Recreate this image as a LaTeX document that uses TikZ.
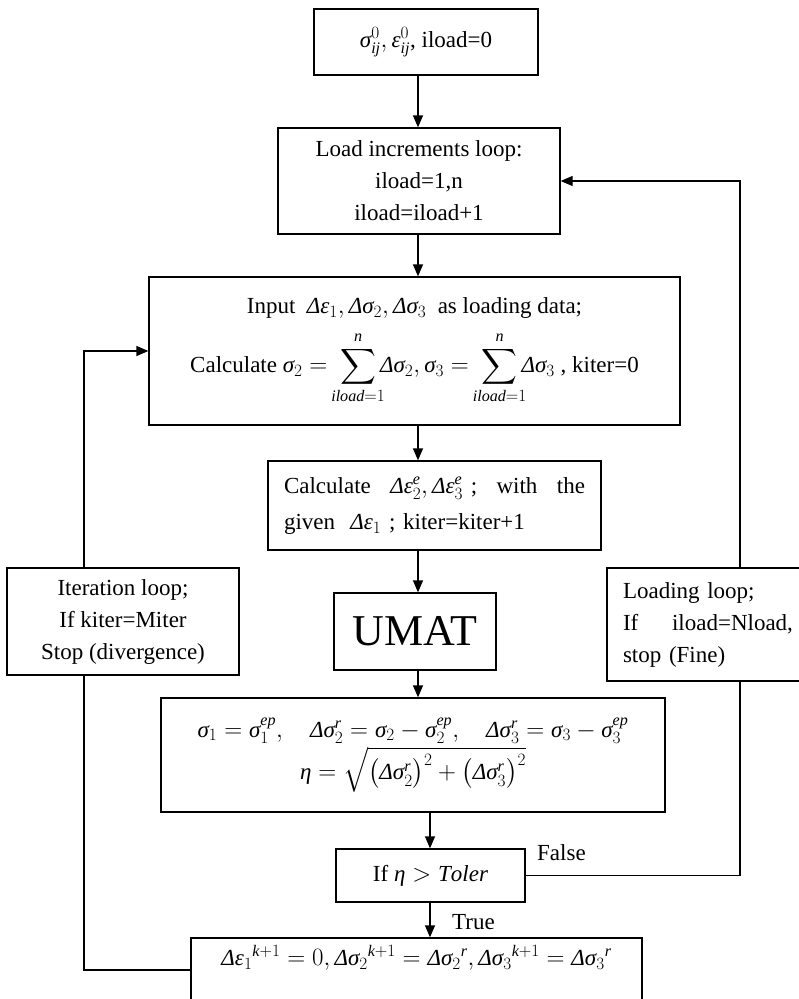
\documentclass[tikz,border=0pt]{standalone}
\usepackage{amsmath}
\usepackage{fontspec}
\setmainfont{Liberation Serif}
\usetikzlibrary{arrows.meta}
\newcommand{\xsig}{\text{\itshape σ}}
\newcommand{\xeps}{\text{\itshape ε}}
\newcommand{\xDel}{\text{\itshape Δ}}
\newcommand{\xeta}{\text{\itshape η}}
\newcommand{\xclap}[1]{\makebox[0pt]{$\scriptstyle #1$}}
\tikzset{
  bx/.style={draw, line width=1.3pt, inner sep=0pt, align=center, font=\fontsize{23}{32}\selectfont},
  lbl/.style={inner sep=0pt, align=center, font=\fontsize{23}{32}\selectfont},
  flow/.style={line width=1.3pt, -{Triangle[length=12pt,width=10pt]}},
  plain/.style={line width=1.3pt},
}
\begin{document}
\begin{tikzpicture}[x=1pt,y=-1pt]
\useasboundingbox (0,0) rectangle (799,999);
\coordinate (ax) at (418,0);
\coordinate (ax2) at (430,0);
\coordinate (lx) at (84,0);
\coordinate (rx) at (740,0);

\node[bx, minimum width=224pt, minimum height=66pt] (b1) at (426,42)
  {$\xsig_{\mathit{ij}}^{0},\xeps_{\mathit{ij}}^{0}$, iload=0};
\node[bx, minimum width=282pt, minimum height=106pt] (b2) at (419,181)
  {Load increments loop:\\ iload=1,n\\ iload=iload+1};
\node[bx, minimum width=531pt, minimum height=148pt] (b3) at (414.5,351)
  {Input \ $\xDel\xeps_1,\xDel\xsig_2,\xDel\xsig_3$ \ as loading data;\\[12pt]
   Calculate $\xsig_2 = \ \displaystyle\sum_{\xclap{\mathit{iload}=1}}^{\mathit{n}}\xDel\xsig_2,\xsig_3 = \ \sum_{\xclap{\mathit{iload}=1}}^{\mathit{n}}\xDel\xsig_3$ , kiter=0};
\node[bx, align=left, text width=301pt, minimum width=333pt, minimum height=89pt] (b4) at (434.5,505.5)
  {\leavevmode\hbox to 301pt{Calculate\hfil $\xDel\xeps_2^{\mathit{e}},\xDel\xeps_3^{\mathit{e}}$ ;\hfil with\hfil the}\\[4pt]
   given \ $\xDel\xeps_1$ ; kiter=kiter+1};
\node[bx, minimum width=162pt, minimum height=77pt, font=\fontsize{44}{50}\selectfont] (um) at (415,631.5) {UMAT};
\node[bx, minimum width=504pt, minimum height=114pt] (b6) at (413,755)
  {$\xsig_1=\xsig_1^{\mathit{ep}},\quad \xDel\xsig_2^{\mathit{r}}=\xsig_2-\xsig_2^{\mathit{ep}},\quad \xDel\xsig_3^{\mathit{r}}=\xsig_3-\xsig_3^{\mathit{ep}}$\\[2pt]
   $\xeta=\sqrt{\bigl(\xDel\xsig_2^{\mathit{r}}\bigr)^2+\bigl(\xDel\xsig_3^{\mathit{r}}\bigr)^2}$};
\node[bx, minimum width=189pt, minimum height=53pt] (dec) at (430.5,875.5)
  {If $\xeta > \mathit{Toler}$};
\node[bx, minimum width=451pt, minimum height=64pt] (b7) at (416.5,970) {};
\node[lbl] (b7t) at ([yshift=12pt]b7.center)
  {$\xDel\xeps_1{}^{\mathit{k}+1}=0,\xDel\xsig_2{}^{\mathit{k}+1}=\xDel\xsig_2{}^{\mathit{r}},\xDel\xsig_3{}^{\mathit{k}+1}=\xDel\xsig_3{}^{\mathit{r}}$};
\node[bx, minimum width=232pt, minimum height=107pt] (it) at (123,621.5)
  {Iteration loop;\\ If kiter=Miter\\ Stop (divergence)};
\node[bx, align=left, text width=176pt, inner xsep=16pt, minimum height=113pt] (ld) at (711,624.5)
  {Loading loop;\\ \leavevmode\hbox to 170pt{If\hfil iload=Nload,}\\ stop (Fine)};

\node[lbl, anchor=base west] (fl) at (537,860) {False};
\node[lbl, anchor=base west] (tl) at (452,929) {True};

\draw[flow] (b1.south -| ax) -- (b2.north -| ax);
\draw[flow] (b2.south -| ax) -- (b3.north -| ax);
\draw[flow] (b3.south -| ax) -- (b4.north -| ax);
\draw[flow] (b4.south -| ax) -- (um.north -| ax);
\draw[flow] (um.south -| ax) -- (b6.north -| ax);
\draw[flow] (b6.south -| ax2) -- (dec.north -| ax2);
\draw[flow] (dec.south -| ax2) -- (b7.north -| ax2);

\draw[plain] (b7.west) -| (it.south -| lx);
\draw[flow] (it.north -| lx) |- (b3.west);
\draw[plain] (dec.east) -| (ld.south -| rx);
\draw[flow] (ld.north -| rx) |- (b2.east);
\end{tikzpicture}
\end{document}
